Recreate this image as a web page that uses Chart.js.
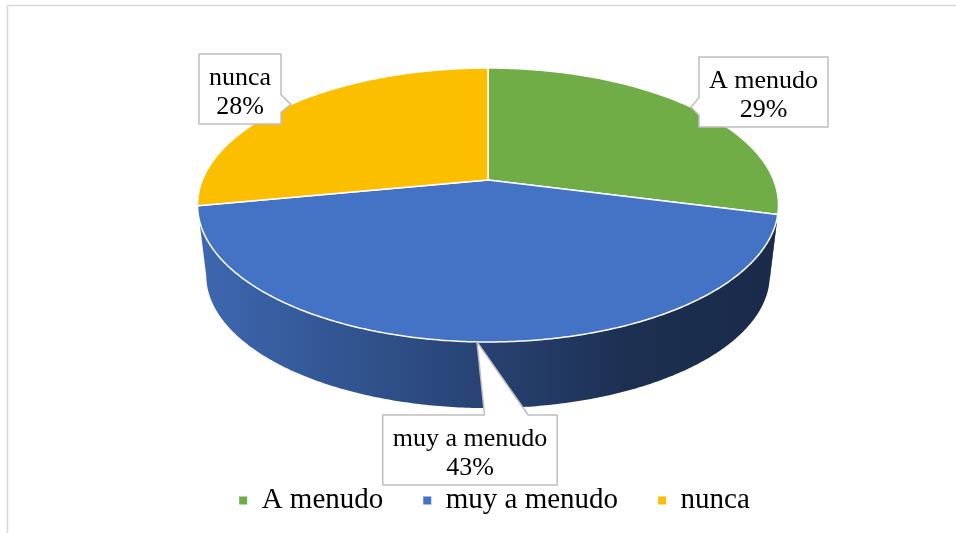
<!DOCTYPE html>
<html>
<head>
<meta charset="utf-8">
<script src="https://cdn.jsdelivr.net/npm/chart.js@4.4.1/dist/chart.umd.min.js"></script>
<style>
  html, body { margin: 0; padding: 0; background: #fff; overflow: hidden; }
  canvas { display: block; }
</style>
</head>
<body>
<canvas id="pieChart" width="956" height="551"></canvas>
<script>
const categories = ['A menudo', 'muy a menudo', 'nunca'];
const percentages = [29, 43, 28];
const sliceColors = ['#70AD47', '#4472C4', '#FBBF00'];

// look of the 3d pie (positions only, no data)
const pie = { cx: 488, cy: 180, rx: 285.6, ry: 132.4, persp: 0.1825, cyBottom: 251, bottomScale: 0.97 };
const calloutCenters = [[763.5, 92], [470, 450], [240, 89]];
const SERIF = '"Liberation Serif", "Times New Roman", serif';

function project(t, bottom) {
    const s = Math.sin(t), c = Math.cos(t);
    const d = 1 - pie.persp * s;
    const k = bottom ? pie.bottomScale : 1;
    return {
        x: pie.cx + k * pie.rx * c / d,
        y: (bottom ? pie.cyBottom : pie.cy) + k * pie.ry * s / d
    };
}

function rimPath(ctx, from, to, bottom, move) {
    const n = Math.max(2, Math.ceil(Math.abs(to - from) / 0.01));
    for (let i = 0; i <= n; i++) {
        const p = project(from + (to - from) * i / n, bottom);
        if (i === 0 && move) ctx.moveTo(p.x, p.y);
        else ctx.lineTo(p.x, p.y);
    }
}

function shade(hex, f) {
    const v = parseInt(hex.slice(1), 16);
    const r = Math.round(((v >> 16) & 255) * f);
    const g = Math.round(((v >> 8) & 255) * f);
    const b = Math.round((v & 255) * f);
    return `rgb(${r},${g},${b})`;
}

function callout(ctx, box, tip) {
    const { x, y, w, h } = box;
    const dx = tip.x - (x + w / 2), dy = tip.y - (y + h / 2);
    let side;
    if (Math.abs(dy) * w > Math.abs(dx) * h) side = dy < 0 ? 'top' : 'bottom';
    else side = dx < 0 ? 'left' : 'right';
    const xa = x + w * (dx > 0 ? 7 : 2) / 12, xb = x + w * (dx > 0 ? 10 : 5) / 12;
    const ya = y + h * (dy > 0 ? 7 : 2) / 12, yb = y + h * (dy > 0 ? 10 : 5) / 12;

    ctx.beginPath();
    ctx.moveTo(x, y);
    if (side === 'top') { ctx.lineTo(xa, y); ctx.lineTo(tip.x, tip.y); ctx.lineTo(xb, y); }
    ctx.lineTo(x + w, y);
    if (side === 'right') { ctx.lineTo(x + w, ya); ctx.lineTo(tip.x, tip.y); ctx.lineTo(x + w, yb); }
    ctx.lineTo(x + w, y + h);
    if (side === 'bottom') { ctx.lineTo(xb, y + h); ctx.lineTo(tip.x, tip.y); ctx.lineTo(xa, y + h); }
    ctx.lineTo(x, y + h);
    if (side === 'left') { ctx.lineTo(x, yb); ctx.lineTo(tip.x, tip.y); ctx.lineTo(x, ya); }
    ctx.closePath();
    ctx.fillStyle = '#fff';
    ctx.fill();
    ctx.strokeStyle = '#bfbfbf';
    ctx.lineWidth = 1.5;
    ctx.stroke();
}

const pie3d = {
    id: 'pie3d',
    beforeDraw(chart) {
        const ctx = chart.ctx;
        ctx.save();
        ctx.fillStyle = '#fff';
        ctx.fillRect(0, 0, chart.width, chart.height);
        ctx.strokeStyle = '#d9d9d9';
        ctx.lineWidth = 1.5;
        ctx.strokeRect(7.5, 5.5, 2000, 2000);
        ctx.restore();
    },
    beforeDatasetsDraw(chart) {
        const ctx = chart.ctx;
        const arcs = chart.getDatasetMeta(0).data;
        const ds = chart.data.datasets[0];
        const colors = ds.backgroundColor;
        const total = ds.data.reduce((a, b) => a + b, 0);
        ctx.save();

        // side walls, only the part facing us
        const lo = Math.asin(pie.persp), hi = Math.PI - lo;
        arcs.forEach((arc, i) => {
            const a = Math.max(arc.startAngle, lo), b = Math.min(arc.endAngle, hi);
            if (b <= a) return;
            ctx.beginPath();
            rimPath(ctx, a, b, false, true);
            rimPath(ctx, b, a, true, false);
            ctx.closePath();
            const g = ctx.createLinearGradient(pie.cx - pie.rx, 0, pie.cx + pie.rx, 0);
            g.addColorStop(0, shade(colors[i], 0.9));
            g.addColorStop(0.5, shade(colors[i], 0.58));
            g.addColorStop(0.75, shade(colors[i], 0.41));
            g.addColorStop(1, shade(colors[i], 0.38));
            ctx.fillStyle = g;
            ctx.fill();
        });

        // top faces
        arcs.forEach((arc, i) => {
            ctx.beginPath();
            ctx.moveTo(pie.cx, pie.cy);
            rimPath(ctx, arc.startAngle, arc.endAngle, false, false);
            ctx.closePath();
            ctx.fillStyle = colors[i];
            ctx.fill();
            ctx.strokeStyle = '#fff';
            ctx.lineWidth = 1.5;
            ctx.lineJoin = 'round';
            ctx.stroke();
        });

        // callout labels
        ctx.font = `26px ${SERIF}`;
        ctx.textAlign = 'center';
        ctx.textBaseline = 'alphabetic';
        arcs.forEach((arc, i) => {
            const lines = [chart.data.labels[i], Math.round(ds.data[i] / total * 100) + '%'];
            const w = Math.max(...lines.map(t => ctx.measureText(t).width)) + 20;
            const h = 70;
            const [mx, my] = calloutCenters[i];
            const box = { x: mx - w / 2, y: my - h / 2, w, h };
            const tip = project((arc.startAngle + arc.endAngle) / 2, false);
            callout(ctx, box, tip);
            ctx.fillStyle = '#000';
            ctx.fillText(lines[0], mx, box.y + 31);
            ctx.fillText(lines[1], mx, box.y + 60);
        });

        ctx.restore();
        return false;
    }
};

new Chart(document.getElementById('pieChart'), {
    type: 'pie',
    data: {
        labels: categories,
        datasets: [{
            data: percentages,
            backgroundColor: sliceColors,
            borderWidth: 0
        }]
    },
    options: {
        responsive: false,
        animation: false,
        layout: { padding: { left: 33, right: 0, top: 0, bottom: 26 } },
        plugins: {
            tooltip: { enabled: false },
            legend: {
                position: 'bottom',
                labels: {
                    color: '#000',
                    font: { family: SERIF, size: 29 },
                    boxWidth: 8,
                    boxHeight: 8,
                    padding: 40
                }
            }
        }
    },
    plugins: [pie3d]
});
</script>
</body>
</html>
